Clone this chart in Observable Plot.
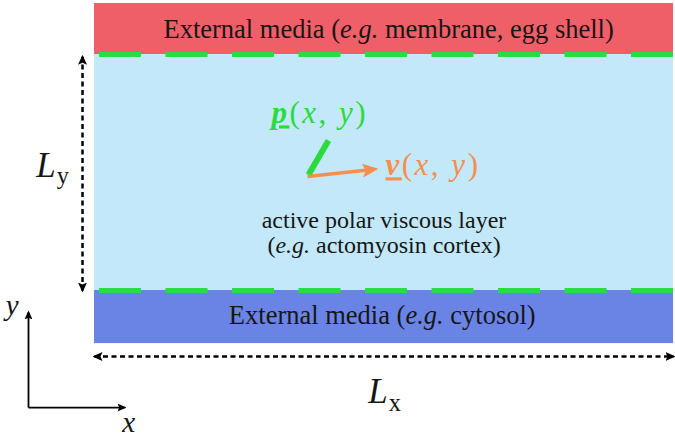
<!DOCTYPE html>
<html><head><meta charset="utf-8">
<script src="https://cdn.jsdelivr.net/npm/d3@7"></script>
<script src="https://cdn.jsdelivr.net/npm/@observablehq/plot@0.6"></script>
<style>html,body{margin:0;padding:0;background:#fff;}</style>
</head><body><div id="chart"></div>
<script>
// Diagram coordinates: x in units of Lx, y in units of Ly (active layer spans 0..1)
const layerNames = ["top external medium", "active layer", "bottom external medium"];
const layerBottom = [1, 0, -0.225];
const layerTop = [1.216, 1, 0];
const layerColors = ["#ef5f67", "#c2e8fa", "#6a84e6"];

const interfaceY = [0, 1];

const bandLabelTexts = ["External media (e.g. membrane, egg shell)", "External media (e.g. cytosol)"];
const bandLabelX = [0.508, 0.497];
const bandLabelY = [1.105, -0.106];

const layerLabelTexts = ["active polar viscous layer", "(e.g. actomyosin cortex)"];
const layerLabelX = [0.5, 0.5];
const layerLabelY = [0.298, 0.19];

// polarity p and velocity v at a point
const vectorNames = ["p", "v"];
const vectorX0 = [0.3696, 0.3679];
const vectorY0 = [0.49, 0.483];
const vectorX1 = [0.4041, 0.4801];
const vectorY1 = [0.636, 0.5127];

const vectorLabelTexts = ["p(x, y)", "v(x, y)"];
const vectorLabelX = [0.389, 0.5026];
const vectorLabelY = [0.75, 0.53];

// dimension arrows Ly and Lx
const dimNames = ["Ly", "Lx"];
const dimX0 = [-0.0207, 0.0];
const dimY0 = [0.0, -0.28];
const dimX1 = [-0.0207, 1.0];
const dimY1 = [0.99, -0.28];
const dimLabelX = [-0.0725, 0.501];
const dimLabelY = [0.53, -0.43];

// coordinate system icon
const axisNames = ["x", "y"];
const axisX0 = [-0.114, -0.114];
const axisY0 = [-0.496, -0.496];
const axisX1 = [0.0518, -0.114];
const axisY1 = [-0.496, -0.093];
const axisLabelX = [0.059, -0.142];
const axisLabelY = [-0.56, -0.066];

const layers = layerNames.map((name, i) => ({name, bottom: layerBottom[i], top: layerTop[i]}));
const bandLabels = bandLabelTexts.map((text, i) => ({text, x: bandLabelX[i], y: bandLabelY[i]}));
const layerLabels = layerLabelTexts.map((text, i) => ({text, x: layerLabelX[i], y: layerLabelY[i]}));
const vectors = vectorNames.map((name, i) => ({name, x0: vectorX0[i], y0: vectorY0[i], x1: vectorX1[i], y1: vectorY1[i]}));
const vectorLabels = vectorLabelTexts.map((text, i) => ({text, x: vectorLabelX[i], y: vectorLabelY[i]}));
const dims = dimNames.map((name, i) => ({name, x0: dimX0[i], y0: dimY0[i], x1: dimX1[i], y1: dimY1[i], lx: dimLabelX[i], ly: dimLabelY[i]}));
const axesIcon = axisNames.map((name, i) => ({name, x0: axisX0[i], y0: axisY0[i], x1: axisX1[i], y1: axisY1[i], lx: axisLabelX[i], ly: axisLabelY[i]}));

function head(len, wid, ref) {
  return (color, context) => {
    const m = d3.create("svg:marker")
      .attr("viewBox", `0 ${-wid / 2} ${len} ${wid}`)
      .attr("markerUnits", "userSpaceOnUse")
      .attr("markerWidth", len)
      .attr("markerHeight", wid)
      .attr("refX", ref)
      .attr("refY", 0)
      .attr("orient", "auto-start-reverse")
      .attr("fill", color)
      .attr("stroke", "none")
      .attr("stroke-dasharray", "none");
    m.append("path").attr("d", `M0,${-wid / 2}L${len},0L0,${wid / 2}L${len * 0.2},0Z`);
    return m.node();
  };
}
const orangeHead = head(16, 14, 10);
const blackHead = head(10, 9, 8);
const smallHead = head(9, 8, 7);

const ink = "#161616";
const green = "#2bdb3c";
const orange = "#f58f50";
const serif = "Liberation Serif";

const plot = Plot.plot({
  width: 675,
  height: 438,
  margin: 0,
  x: {domain: [0, 1], range: [94, 673], axis: null},
  y: {domain: [0, 1], range: [290, 54], axis: null},
  color: {domain: layerNames, range: layerColors},
  style: {background: "#fff", overflow: "visible"},
  marks: [
    Plot.rect(layers, {x1: 0, x2: 1, y1: "bottom", y2: "top", fill: "name"}),
    Plot.ruleY(interfaceY, {x1: 0, x2: 1, stroke: "#27dd43", strokeWidth: 5, strokeDasharray: "42,24.5", strokeDashoffset: -5}),
    Plot.text(bandLabels, {x: "x", y: "y", text: "text", fontSize: 26.5, fontFamily: serif, fill: ink}),
    Plot.text(layerLabels, {x: "x", y: "y", text: "text", fontSize: 24, fontFamily: serif, fill: ink}),
    Plot.link(vectors.filter(d => d.name === "p"), {x1: "x0", y1: "y0", x2: "x1", y2: "y1", stroke: green, strokeWidth: 6}),
    Plot.link(vectors.filter(d => d.name === "v"), {x1: "x0", y1: "y0", x2: "x1", y2: "y1", stroke: orange, strokeWidth: 3.5, markerEnd: orangeHead}),
    Plot.text(vectorLabels.slice(0, 1), {x: "x", y: "y", text: "text", fontSize: 31, fontFamily: serif, fill: green}),
    Plot.text(vectorLabels.slice(1), {x: "x", y: "y", text: "text", fontSize: 31, fontFamily: serif, fill: orange, textAnchor: "start"}),
    Plot.link(dims, {x1: "x0", y1: "y0", x2: "x1", y2: "y1", stroke: "#000", strokeWidth: 2.5, strokeDasharray: "5,3.5", markerStart: blackHead, markerEnd: blackHead}),
    Plot.text(dims, {x: "lx", y: "ly", text: "name", fontSize: 35, fontFamily: serif, fill: ink}),
    Plot.link(axesIcon, {x1: "x0", y1: "y0", x2: "x1", y2: "y1", stroke: "#000", strokeWidth: 1.8, markerEnd: smallHead}),
    Plot.text(axesIcon, {x: "lx", y: "ly", text: "name", fontSize: 29, fontFamily: serif, fill: ink})
  ]
});
document.getElementById("chart").append(plot);

// typographic formatting (italic abbreviations, math symbols)
const NS = "http://www.w3.org/2000/svg";
function rich(node, parts) {
  node.textContent = "";
  for (const [t, st] of parts) {
    const ts = document.createElementNS(NS, "tspan");
    ts.textContent = t;
    for (const k in st) ts.setAttribute(k, st[k]);
    node.appendChild(ts);
  }
}
const it = {"font-style": "italic"};
d3.select(plot).selectAll("text").each(function () {
  this.setAttribute("font-family", serif);
  const s = this.textContent;
  if (s.includes("e.g.")) {
    rich(this, s.split(/(e\.g\.)/).filter(t => t).map(t => [t, t === "e.g." ? it : {}]));
  } else if (/^[pv]\(x, y\)$/.test(s)) {
    this.setAttribute("letter-spacing", "2.5");
    rich(this, [[s[0], {"font-style": "italic", "font-weight": "bold", "text-decoration": "underline"}], ["(", {}], ["x", it], [", ", {}], ["y", it], [")", {}]]);
  } else if (/^L[xy]$/.test(s)) {
    rich(this, [["L", it], [s[1], {"font-size": "0.7em", "dy": "0.3em", "dx": "1"}]]);
  } else if (s === "x" || s === "y") {
    rich(this, [[s, it]]);
  }
});
</script>
</body></html>
